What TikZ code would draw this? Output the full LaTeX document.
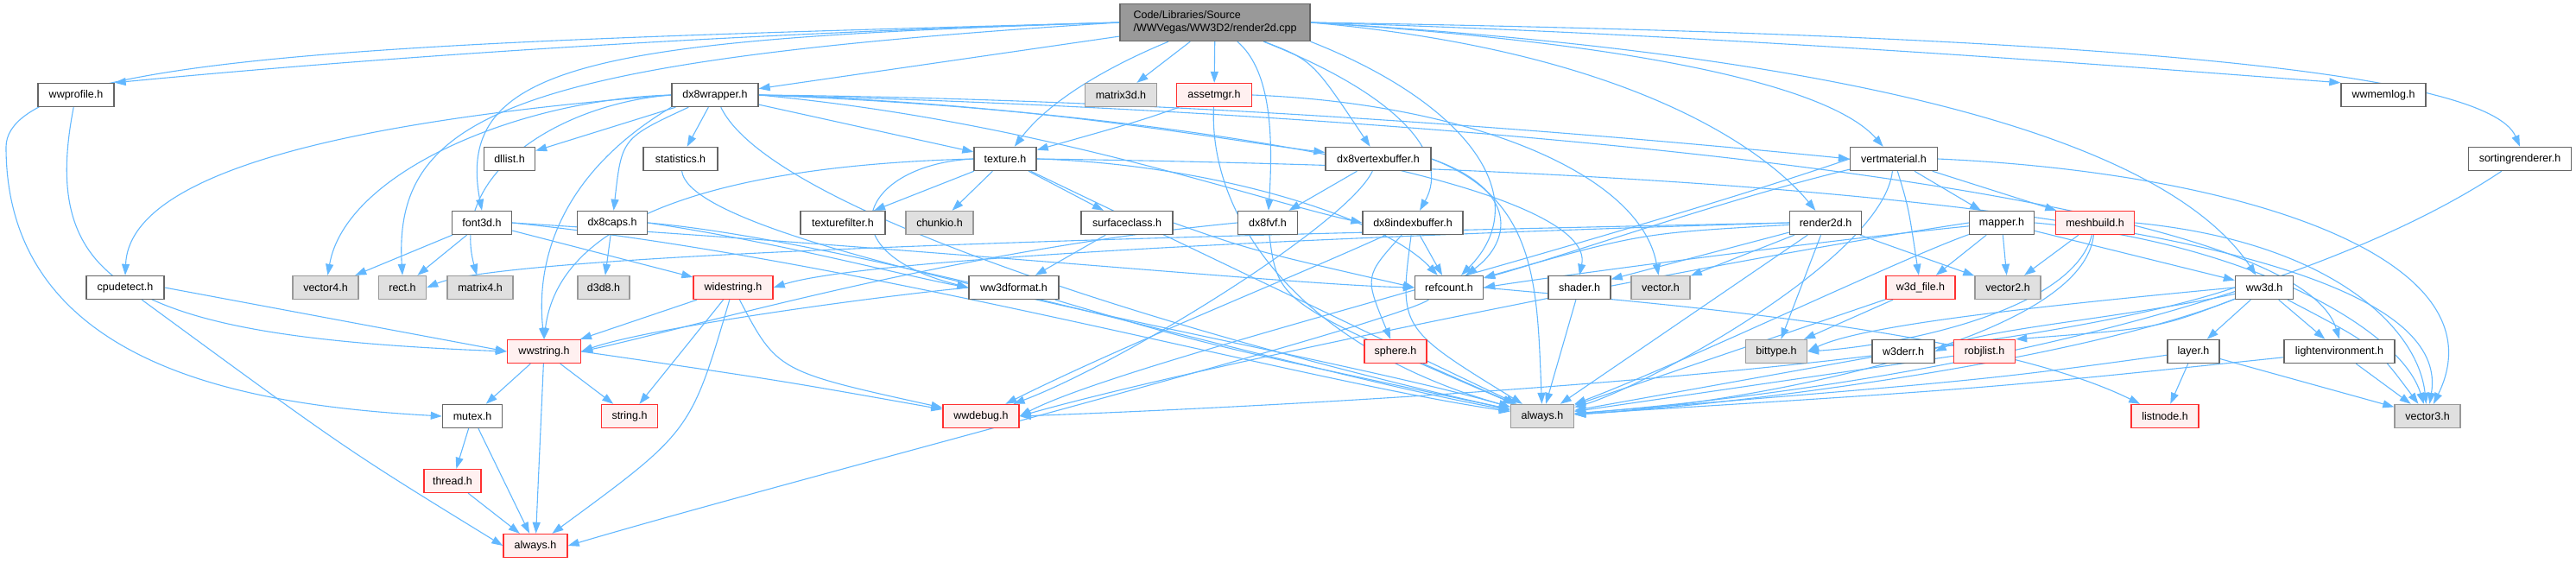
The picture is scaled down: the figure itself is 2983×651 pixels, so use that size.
\documentclass[tikz,border=0pt]{standalone}
\usepackage{fontspec}
\setmainfont{Liberation Sans}
\usepackage{tikz}
\usetikzlibrary{arrows.meta,backgrounds}
\definecolor{depblue}{HTML}{63B8FF}
\definecolor{incline}{HTML}{666666}
\definecolor{sysline}{HTML}{999999}
\definecolor{sysfill}{HTML}{E0E0E0}
\definecolor{redline}{HTML}{FF3030}
\definecolor{redfill}{HTML}{FFF0F0}
\definecolor{rootfill}{HTML}{999999}
\tikzset{
  inc/.style={draw=incline,fill=white,line width=1.4pt,minimum height=27,inner sep=0pt,font=\fontsize{12.5}{15}\selectfont},
  sysinc/.style={inc,draw=sysline,fill=sysfill},
  redinc/.style={inc,draw=redline,fill=redfill},
  rootinc/.style={inc,fill=rootfill,align=left,minimum height=43},
  dep/.style={draw=depblue,line width=1.1pt,-{Triangle[length=13pt,width=9pt]}}
}
\begin{document}
\begin{tikzpicture}[x=1pt,y=-1pt]
  \useasboundingbox (0,0) rectangle (2983,651);
  % top row
  \node[rootinc,minimum width=220] (root) at (1407,26) {Code/Libraries/Source\\/WWVegas/WW3D2/render2d.cpp};
  \node[inc,minimum width=88] (wwprofile) at (88,110) {wwprofile.h};
  \node[inc,minimum width=100] (dx8wrapper) at (828,110) {dx8wrapper.h};
  \node[sysinc,minimum width=83] (matrix3d) at (1298,110) {matrix3d.h};
  \node[redinc,minimum width=87] (assetmgr) at (1406,110) {assetmgr.h};
  \node[inc,minimum width=98] (wwmemlog) at (2760,110) {wwmemlog.h};
  % second row
  \node[inc,minimum width=59] (dllist) at (590,184) {dllist.h};
  \node[inc,minimum width=86] (statistics) at (788,184) {statistics.h};
  \node[inc,minimum width=72] (texture) at (1164,184) {texture.h};
  \node[inc,minimum width=122] (dx8vertexbuffer) at (1596,184) {dx8vertexbuffer.h};
  \node[inc,minimum width=101] (vertmaterial) at (2193,184) {vertmaterial.h};
  \node[inc,minimum width=119] (sortingrenderer) at (2918,184) {sortingrenderer.h};
  % third row
  \node[inc,minimum width=69] (font3d) at (558,258) {font3d.h};
  \node[inc,minimum width=81] (dx8caps) at (709,258) {dx8caps.h};
  \node[inc,minimum width=98] (texturefilter) at (976,258) {texturefilter.h};
  \node[sysinc,minimum width=78] (chunkio) at (1088,258) {chunkio.h};
  \node[inc,minimum width=106] (surfaceclass) at (1305,258) {surfaceclass.h};
  \node[inc,minimum width=69] (dx8fvf) at (1468,258) {dx8fvf.h};
  \node[inc,minimum width=116] (dx8indexbuffer) at (1636,258) {dx8indexbuffer.h};
  \node[inc,minimum width=83] (render2d) at (2114,258) {render2d.h};
  \node[inc,minimum width=75] (mapper) at (2318,258) {mapper.h};
  \node[redinc,minimum width=91] (meshbuild) at (2426,258) {meshbuild.h};
  % fourth row
  \node[inc,minimum width=90] (cpudetect) at (145,333) {cpudetect.h};
  \node[sysinc,minimum width=76] (vector4) at (377,333) {vector4.h};
  \node[sysinc,minimum width=55] (rect) at (466,333) {rect.h};
  \node[sysinc,minimum width=76] (matrix4) at (556,333) {matrix4.h};
  \node[sysinc,minimum width=60] (d3d8) at (699,333) {d3d8.h};
  \node[redinc,minimum width=92] (widestring) at (849,333) {widestring.h};
  \node[inc,minimum width=104] (ww3dformat) at (1174,333) {ww3dformat.h};
  \node[inc,minimum width=79] (refcount) at (1678,333) {refcount.h};
  \node[inc,minimum width=72] (shader) at (1829,333) {shader.h};
  \node[sysinc,minimum width=68] (vector) at (1923,333) {vector.h};
  \node[redinc,minimum width=80] (w3dfile) at (2224,333) {w3d\_file.h};
  \node[sysinc,minimum width=76] (vector2) at (2325,333) {vector2.h};
  \node[inc,minimum width=67] (ww3d) at (2622,333) {ww3d.h};
  % fifth row
  \node[redinc,minimum width=85] (wwstring) at (630,407) {wwstring.h};
  \node[redinc,minimum width=72] (sphere) at (1616,407) {sphere.h};
  \node[sysinc,minimum width=71] (bittype) at (2057,407) {bittype.h};
  \node[inc,minimum width=72] (w3derr) at (2204,407) {w3derr.h};
  \node[redinc,minimum width=71] (robjlist) at (2298,407) {robjlist.h};
  \node[inc,minimum width=60] (layer) at (2540,407) {layer.h};
  \node[inc,minimum width=128] (lightenv) at (2709,407) {lightenvironment.h};
  % sixth row
  \node[inc,minimum width=69] (mutex) at (547,482) {mutex.h};
  \node[redinc,minimum width=65] (stringh) at (729,482) {string.h};
  \node[redinc,minimum width=88] (wwdebug) at (1136,482) {wwdebug.h};
  \node[sysinc,minimum width=73] (alwaysg) at (1786,482) {always.h};
  \node[redinc,minimum width=78] (listnode) at (2507,482) {listnode.h};
  \node[sysinc,minimum width=76] (vector3) at (2811,482) {vector3.h};
  % bottom rows
  \node[redinc,minimum width=66] (thread) at (524,557) {thread.h};
  \node[redinc,minimum width=74] (alwaysr) at (620,632) {always.h};

  \begin{pgfonlayer}{background}
  % render2d.cpp
  \draw[dep] (root.west) .. controls (800,40) and (400,70) .. (wwprofile.north east);
  \draw[dep] (root.west) .. controls (500,48) and (8,60) .. (7,170) .. controls (7,430) and (300,470) .. (mutex.west);
  \draw[dep] (root) -- (dx8wrapper);
  \draw[dep] (root) -- (matrix3d);
  \draw[dep] (root) -- (assetmgr);
  \draw[dep] (root) .. controls (1300,70) and (1220,110) .. (texture);
  \draw[dep] (root) .. controls (1520,70) .. (dx8vertexbuffer);
  \draw[dep] (root) .. controls (1470,80) and (1475,150) .. (dx8fvf);
  \draw[dep] (root) .. controls (1620,110) and (1680,180) .. (dx8indexbuffer);
  \draw[dep] (root.south east) .. controls (1700,120) and (1780,230) .. (refcount);
  \draw[dep] (root.east) .. controls (1900,60) and (2050,180) .. (render2d);
  \draw[dep] (root.east) .. controls (1900,50) and (2120,100) .. (vertmaterial);
  \draw[dep] (root.east) .. controls (2100,60) and (2500,150) .. (ww3d);
  \draw[dep] (root.east) .. controls (2000,40) and (2500,80) .. (wwmemlog.north west);
  \draw[dep] (root.east) .. controls (2400,40) and (2880,80) .. (sortingrenderer.north);
  \draw[dep] (root.west) .. controls (700,45) and (525,70) .. (font3d.north);
  \draw[dep] (root.west) .. controls (600,70) and (455,130) .. (rect.north);
  % dx8wrapper.h
  \draw[dep] (dx8wrapper) -- (dllist);
  \draw[dep] (dx8wrapper) -- (statistics);
  \draw[dep] (dx8wrapper) .. controls (720,160) .. (dx8caps);
  \draw[dep] (dx8wrapper.west) .. controls (650,120) and (520,200) .. (matrix4);
  \draw[dep] (dx8wrapper.west) .. controls (600,115) and (400,200) .. (vector4);
  \draw[dep] (dx8wrapper.west) .. controls (400,140) and (150,200) .. (cpudetect.north);
  \draw[dep] (dx8wrapper.south west) .. controls (650,200) and (620,300) .. (wwstring.north);
  \draw[dep] (dx8wrapper) -- (texture);
  \draw[dep] (dx8wrapper.east) .. controls (1200,120) and (1400,160) .. (dx8vertexbuffer);
  \draw[dep] (dx8wrapper.east) .. controls (1200,140) and (1450,230) .. (dx8indexbuffer.west);
  \draw[dep] (dx8wrapper.east) .. controls (1400,115) and (1900,160) .. (vertmaterial.west);
  \draw[dep] (dx8wrapper.east) .. controls (1400,130) and (1850,220) .. (shader.north);
  \draw[dep] (dx8wrapper.east) .. controls (1500,125) and (2650,200) .. (lightenv.north);
  \draw[dep] (dx8wrapper) .. controls (900,260) and (1500,420) .. (alwaysg);
  % assetmgr.h
  \draw[dep] (assetmgr) .. controls (1320,140) .. (texture);
  \draw[dep] (assetmgr) .. controls (1400,250) and (1500,400) .. (alwaysg);
  \draw[dep] (assetmgr.east) .. controls (1700,120) and (1900,200) .. (vector);
  % texture.h
  \draw[dep] (texture) -- (texturefilter);
  \draw[dep] (texture) -- (chunkio);
  \draw[dep] (texture) -- (surfaceclass);
  \draw[dep] (texture) -- (alwaysg);
  \draw[dep] (texture.east) .. controls (1400,190) and (1600,250) .. (refcount);
  \draw[dep] (texture.west) .. controls (1000,190) and (950,290) .. (ww3dformat.west);
  \draw[dep] (texture.west) .. controls (900,190) and (650,230) .. (wwstring.north);
  \draw[dep] (texture.east) .. controls (2000,195) and (2850,250) .. (vector3);
  % dx8vertexbuffer.h
  \draw[dep] (dx8vertexbuffer) -- (dx8fvf);
  \draw[dep] (dx8vertexbuffer) .. controls (1560,260) and (1300,420) .. (wwdebug);
  \draw[dep] (dx8vertexbuffer.east) .. controls (1760,220) and (1750,280) .. (refcount);
  \draw[dep] (dx8vertexbuffer.east) .. controls (1780,230) and (1780,330) .. (alwaysg);
  % dx8fvf.h
  \draw[dep] (dx8fvf.west) .. controls (1100,290) and (800,380) .. (wwstring.east);
  \draw[dep] (dx8fvf) .. controls (1480,350) .. (alwaysg);
  % dx8indexbuffer.h
  \draw[dep] (dx8indexbuffer) -- (refcount);
  \draw[dep] (dx8indexbuffer) .. controls (1580,320) .. (sphere);
  \draw[dep] (dx8indexbuffer) .. controls (1620,380) .. (alwaysg);
  \draw[dep] (dx8indexbuffer) .. controls (1500,320) and (1300,400) .. (wwdebug);
  % vertmaterial.h
  \draw[dep] (vertmaterial) -- (mapper);
  \draw[dep] (vertmaterial) -- (meshbuild);
  \draw[dep] (vertmaterial) .. controls (2210,240) .. (w3dfile);
  \draw[dep] (vertmaterial) .. controls (2000,230) and (1800,300) .. (refcount);
  \draw[dep] (vertmaterial) .. controls (2180,300) and (1900,450) .. (alwaysg);
  \draw[dep] (vertmaterial.east) .. controls (2600,200) and (2900,300) .. (vector3);
  \draw[dep] (vertmaterial.west) .. controls (1800,300) and (1300,420) .. (wwdebug.east);
  % render2d.h
  \draw[dep] (render2d) .. controls (1900,270) .. (refcount);
  \draw[dep] (render2d) -- (shader);
  \draw[dep] (render2d) -- (vector);
  \draw[dep] (render2d) -- (vector2);
  \draw[dep] (render2d) -- (bittype);
  \draw[dep] (render2d) -- (alwaysg);
  \draw[dep] (render2d.west) .. controls (1500,275) and (1000,300) .. (widestring.east);
  \draw[dep] (render2d.west) .. controls (1500,270) and (600,290) .. (rect.east);
  % mapper.h
  \draw[dep] (mapper) .. controls (2100,280) and (1800,320) .. (refcount.east);
  \draw[dep] (mapper) -- (w3dfile);
  \draw[dep] (mapper) -- (vector2);
  \draw[dep] (mapper.east) .. controls (2600,280) and (2780,380) .. (vector3);
  \draw[dep] (mapper) -- (ww3d);
  \draw[dep] (mapper) .. controls (2200,300) and (1950,420) .. (alwaysg);
  \draw[dep] (mapper.west) .. controls (2000,300) and (1400,420) .. (wwdebug.east);
  % meshbuild.h
  \draw[dep] (meshbuild) -- (vector2);
  \draw[dep] (meshbuild.east) .. controls (2700,280) and (2800,380) .. (vector3);
  \draw[dep] (meshbuild) .. controls (2400,360) and (2200,400) .. (bittype.east);
  \draw[dep] (meshbuild) .. controls (2410,400) and (2000,470) .. (alwaysg);
  % ww3d.h
  \draw[dep] (ww3d) -- (layer);
  \draw[dep] (ww3d) -- (lightenv);
  \draw[dep] (ww3d) .. controls (2750,400) .. (vector3);
  \draw[dep] (ww3d) .. controls (2500,380) .. (robjlist.north east);
  \draw[dep] (ww3d) .. controls (2450,370) and (2300,380) .. (w3derr.east);
  \draw[dep] (ww3d.west) .. controls (2300,360) and (2150,380) .. (bittype.east);
  \draw[dep] (ww3d) .. controls (2400,420) and (2000,470) .. (alwaysg);
  \draw[dep] (ww3d.west) .. controls (2300,430) and (1500,470) .. (wwdebug.east);
  % leaves
  \draw[dep] (layer) -- (listnode);
  \draw[dep] (layer) -- (vector3);
  \draw[dep] (layer) .. controls (2300,440) .. (alwaysg);
  \draw[dep] (lightenv) -- (vector3);
  \draw[dep] (lightenv) .. controls (2300,450) .. (alwaysg);
  \draw[dep] (robjlist) -- (alwaysg);
  \draw[dep] (w3derr) -- (alwaysg);
  \draw[dep] (w3dfile) -- (bittype);
  \draw[dep] (w3dfile) -- (alwaysg);
  \draw[dep] (shader) -- (alwaysg);
  \draw[dep] (refcount) .. controls (1600,380) and (900,560) .. (alwaysr.east);
  \draw[dep] (refcount.east) .. controls (1900,350) and (2300,380) .. (listnode);
  \draw[dep] (sphere) -- (alwaysg);
  \draw[dep] (surfaceclass) -- (ww3dformat);
  \draw[dep] (surfaceclass.east) .. controls (1450,290) .. (refcount.west);
  \draw[dep] (ww3dformat.west) .. controls (1000,345) and (750,380) .. (wwstring.east);
  \draw[dep] (ww3dformat) .. controls (1400,400) .. (alwaysg);
  \draw[dep] (statistics) .. controls (800,290) and (1500,400) .. (alwaysg);
  \draw[dep] (font3d) -- (rect);
  \draw[dep] (font3d) -- (vector4);
  \draw[dep] (font3d) -- (widestring);
  \draw[dep] (font3d.east) .. controls (1100,290) and (1500,330) .. (refcount.west);
  \draw[dep] (font3d.east) .. controls (1000,300) and (1500,440) .. (alwaysg);
  \draw[dep] (dx8caps) -- (d3d8);
  \draw[dep] (dx8caps.east) .. controls (900,280) and (1050,320) .. (ww3dformat.west);
  \draw[dep] (dx8caps.east) .. controls (1000,280) and (1500,430) .. (alwaysg);
  \draw[dep] (widestring) -- (wwstring);
  \draw[dep] (widestring) -- (stringh);
  \draw[dep] (widestring) .. controls (800,500) .. (alwaysr);
  \draw[dep] (widestring) .. controls (900,430) .. (wwdebug);
  \draw[dep] (wwstring) -- (mutex);
  \draw[dep] (wwstring) -- (stringh);
  \draw[dep] (wwstring) -- (alwaysr);
  \draw[dep] (wwstring.east) .. controls (900,440) .. (wwdebug);
  \draw[dep] (mutex) -- (thread);
  \draw[dep] (mutex) -- (alwaysr);
  \draw[dep] (thread) -- (alwaysr);
  \draw[dep] (cpudetect.east) -- (wwstring.west);
  \draw[dep] (cpudetect) .. controls (400,520) .. (alwaysr.west);
  \draw[dep] (wwprofile) .. controls (45,330) and (150,390) .. (wwstring.west);
  \draw[dep] (sortingrenderer) .. controls (2700,330) and (2300,440) .. (alwaysg);
  \end{pgfonlayer}
\end{tikzpicture}
\end{document}
